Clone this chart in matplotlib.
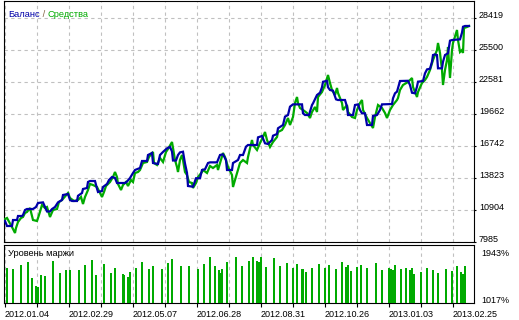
import matplotlib
matplotlib.use("Agg")
import matplotlib.pyplot as plt

plt.rcParams['font.family'] = ['Liberation Sans', 'DejaVu Sans']

# balance curve (deal number -> balance)
bal_x = [5, 7, 12, 13, 17, 18, 22, 23, 25, 27, 33, 36, 38, 43, 45, 47, 50, 52, 55, 58,
         62, 63, 68, 70, 72, 77, 78, 82, 83, 87, 88, 90, 95, 97, 98, 102, 103, 107, 109, 112,
         115, 117, 125, 127, 130, 133, 135, 140, 142, 147, 148, 152, 153, 158, 160, 163, 167, 170, 172, 173,
         176, 178, 180, 183, 185, 187, 188, 193, 196, 200, 202, 205, 208, 210, 217, 220, 223, 226, 227, 232,
         233, 238, 240, 243, 246, 248, 257, 258, 262, 265, 268, 272, 273, 277, 278, 283, 285, 288, 290, 293,
         302, 303, 305, 309, 312, 313, 317, 320, 322, 323, 327, 328, 330, 333, 336, 338, 345, 347, 348, 353,
         355, 358, 360, 362, 365, 367, 372, 373, 377, 380, 382, 392, 393, 395, 397, 400, 408, 410, 412, 415,
         417, 418, 423, 425, 427, 430, 432, 433, 435, 437, 438, 442, 443, 445, 448, 450, 452, 460, 462, 463,
         465, 469]
bal_y = [9900, 9445, 9445, 9990, 9990, 10357, 10357, 10448, 10904, 10995, 10995, 11178, 11543, 11600, 11178, 10770, 10770, 10990, 11178, 11600,
         11816, 12272, 12364, 11816, 11725, 11725, 12200, 12455, 12820, 12911, 13460, 13549, 13549, 12850, 12546, 12640, 13002, 13276, 13641, 13914,
         13823, 13367, 13367, 13500, 13823, 14279, 14553, 14735, 15374, 15374, 15921, 16104, 15191, 15100, 15921, 16200, 16530, 16651, 16240, 15420,
         15420, 15921, 16160, 16220, 15140, 14290, 13093, 13030, 13800, 13800, 14553, 14620, 15191, 15250, 15250, 15921, 15980, 15465, 14553, 14553,
         15191, 15465, 15921, 15921, 16680, 16833, 16833, 17530, 17654, 16990, 16925, 17289, 17680, 17837, 18360, 18658, 19420, 19570, 20330, 20540,
         20540, 19720, 19570, 19570, 20482, 20630, 21394, 21604, 22100, 22600, 22690, 22100, 21850, 21790, 21000, 20938, 20938, 20330, 19570, 19570,
         20482, 20540, 20026, 19720, 19720, 18658, 18658, 19480, 19570, 20026, 20540, 20570, 21090, 21550, 21700, 22670, 22690, 22300, 21600, 21550,
         22160, 22610, 22670, 23370, 23730, 23790, 24430, 25040, 25100, 25040, 23830, 23830, 24430, 25040, 25200, 26350, 26410, 26470, 27080, 27620,
         27690, 27690]

# equity curve
eq_x = [5, 7, 12, 15, 16, 18, 21, 23, 25, 27, 30, 33, 37, 39, 42, 45, 47, 50, 53, 57,
        59, 62, 68, 70, 74, 78, 81, 83, 85, 88, 90, 93, 97, 100, 102, 104, 106, 110, 113, 115,
        117, 118, 121, 123, 126, 128, 131, 133, 135, 138, 140, 143, 147, 149, 152, 153, 154, 157, 160, 163,
        166, 168, 172, 173, 175, 177, 178, 180, 182, 183, 185, 187, 189, 192, 193, 196, 198, 202, 203, 207,
        210, 213, 217, 218, 221, 223, 225, 228, 232, 233, 235, 238, 240, 243, 247, 248, 252, 253, 257, 260,
        263, 265, 267, 270, 273, 277, 278, 282, 285, 288, 290, 293, 295, 297, 298, 300, 303, 307, 310, 312,
        315, 317, 318, 322, 325, 328, 330, 332, 335, 337, 338, 340, 342, 343, 347, 348, 352, 355, 357, 360,
        362, 363, 367, 370, 373, 375, 378, 382, 385, 387, 390, 393, 397, 398, 400, 403, 408, 412, 413, 417,
        418, 422, 425, 427, 430, 433, 437, 438, 440, 442, 443, 445, 447, 448, 449, 450, 452, 453, 457, 458,
        460, 462, 463, 464, 467, 469]
eq_y = [10083, 10174, 9353, 8806, 9262, 9809, 10174, 10266, 10630, 10722, 11086, 9992, 9901, 10448, 11360, 11086, 11178, 10266, 10904, 10995,
        11634, 11816, 12455, 11999, 11725, 11816, 12090, 11451, 12090, 12728, 13276, 13185, 13002, 12455, 12090, 12546, 13093, 13458, 13914, 14370,
        13914, 13276, 12728, 13185, 13458, 13093, 13641, 13458, 14279, 14370, 14553, 15191, 15283, 15739, 16104, 16195, 15191, 15009, 15647, 15283,
        16195, 16468, 17107, 16560, 15465, 14827, 14370, 15465, 15921, 15465, 14370, 14097, 13458, 13367, 12911, 13367, 13914, 14370, 14553, 14279,
        14918, 14735, 15009, 14553, 15465, 16104, 15739, 14827, 14097, 13002, 13641, 14553, 15191, 15465, 15191, 15739, 17289, 16833, 16377, 17016,
        17563, 18019, 17289, 16651, 17107, 17563, 18019, 18202, 18658, 19296, 18658, 19388, 20665, 21212, 20665, 20208, 20026, 19752, 19296, 19844,
        20300, 19844, 21212, 21668, 22307, 23219, 22489, 21850, 21394, 22033, 21577, 21121, 20665, 20026, 20482, 19844, 19388, 19296, 20026, 20665,
        20938, 20026, 19296, 18840, 18384, 19388, 20482, 20208, 19752, 19296, 20026, 20482, 20938, 21121, 21850, 22307, 22580, 22945, 22124, 21212,
        21668, 22489, 22763, 23036, 23675, 24587, 25499, 26138, 25226, 23675, 22307, 23675, 24587, 25773, 24313, 22945, 25499, 26138, 27324, 26411,
        25317, 25499, 25226, 27506, 27597, 27689]

# margin level, %
margin_x = [7, 13, 21, 28, 32, 36, 38, 41, 45, 53, 60, 66, 70, 79, 85, 92, 96, 104, 111, 115,
            123, 124, 128, 130, 136, 142, 149, 153, 162, 168, 172, 181, 189, 198, 204, 210, 215, 219, 221, 222,
            227, 236, 242, 249, 253, 257, 259, 261, 266, 274, 280, 287, 293, 297, 302, 303, 306, 312, 319, 325,
            329, 336, 342, 346, 348, 351, 357, 361, 367, 376, 382, 389, 391, 393, 395, 401, 406, 410, 412, 414,
            421, 427, 433, 438, 446, 452, 457, 461, 463, 465]
margin_v = [1707, 1687, 1766, 1831, 1510, 1358, 1338, 1569, 1549, 1850, 1608, 1673, 1673, 1673, 1766, 1870, 1569, 1785, 1608, 1707,
            1594, 1575, 1535, 1628, 1707, 1831, 1687, 1746, 1701, 1805, 1890, 1746, 1746, 1701, 1785, 1929, 1746, 1667, 1608, 1687,
            1825, 1929, 1746, 1850, 1929, 1850, 1825, 1929, 1732, 1904, 1746, 1811, 1707, 1785, 1693, 1693, 1628, 1707, 1785, 1707,
            1766, 1687, 1825, 1732, 1766, 1653, 1732, 1766, 1707, 1811, 1667, 1707, 1687, 1673, 1766, 1687, 1707, 1673, 1707, 1588,
            1628, 1707, 1667, 1614, 1687, 1653, 1746, 1628, 1588, 1746]

y_ticks = [7985, 10904, 13823, 16742, 19662, 22581, 25500, 28419]
m_ticks = [1017, 1943]
date_labels = ["2012.01.04", "2012.02.29", "2012.05.07", "2012.06.28",
               "2012.08.31", "2012.10.26", "2013.01.03", "2013.02.25"]

BLUE = "#0000a8"
GREEN = "#00aa00"
GRID = "#c0c0c0"
W, H = 519, 320

fig = plt.figure(figsize=(W / 100, H / 100), dpi=100)
ax = fig.add_axes([4 / W, (H - 242) / H, 470 / W, 241 / H])
ax2 = fig.add_axes([4 / W, (H - 303) / H, 470 / W, 58 / H])

xgrid = list(range(5, 470, 32))

# main panel
ax.plot(eq_x, eq_y, color=GREEN, lw=1.6, solid_joinstyle='miter', zorder=3)
ax.plot(bal_x, bal_y, color=BLUE, lw=1.6, solid_joinstyle='miter', zorder=4)
ax.set_xlim(4, 474)
ax.set_ylim(7985, 29969)
ax.yaxis.tick_right()
ax.set_yticks(y_ticks, [str(v) for v in y_ticks], va='baseline')
ax.set_xticks(xgrid)
ax.tick_params(axis='x', length=0, labelbottom=False)
ax.tick_params(axis='y', length=1.5, width=0.8, pad=2, labelsize=6.5)
ax.grid(True, color=GRID, linestyle=(0, (3, 3)), linewidth=0.8)
ax.set_axisbelow(True)

# legend-like caption: "Баланс / Средства"
cap = ax.text(8, 29969 - 14 * 2919 / 32, "Баланс", color=BLUE, fontsize=6.7, va='center')
cap = ax.annotate(" / ", xycoords=cap, xy=(1, 0.5), va='center', color="#806040", fontsize=6.7)
ax.annotate("Средства", xycoords=cap, xy=(1, 0.5), va='center', color=GREEN, fontsize=6.7)

# margin level panel
ax2.bar(margin_x, margin_v, width=2, bottom=0, color=GREEN, zorder=3)
ax2.set_xlim(4, 474)
ax2.set_ylim(1017, 2170)
ax2.yaxis.tick_right()
ax2.set_yticks(m_ticks, [f"{v}%" for v in m_ticks], va='baseline')
ax2.tick_params(axis='y', length=0, pad=5, labelsize=6.5)
ax2.set_xticks(xgrid, [date_labels[i // 2] if i % 2 == 0 else "" for i in range(len(xgrid))], ha='left')
ax2.tick_params(axis='x', length=3, width=0.8, pad=2, labelsize=6.5)
ax2.grid(True, axis='x', color=GRID, linestyle=(0, (3, 3)), linewidth=0.8)
ax2.set_axisbelow(True)
ax2.text(8, 1017 + 49 * 1153 / 58, "Уровень маржи", fontsize=6.7, va='center')

for a in (ax, ax2):
    for s in a.spines.values():
        s.set_linewidth(0.8)
        s.set_color("black")

fig.savefig("out.png", dpi=100)
